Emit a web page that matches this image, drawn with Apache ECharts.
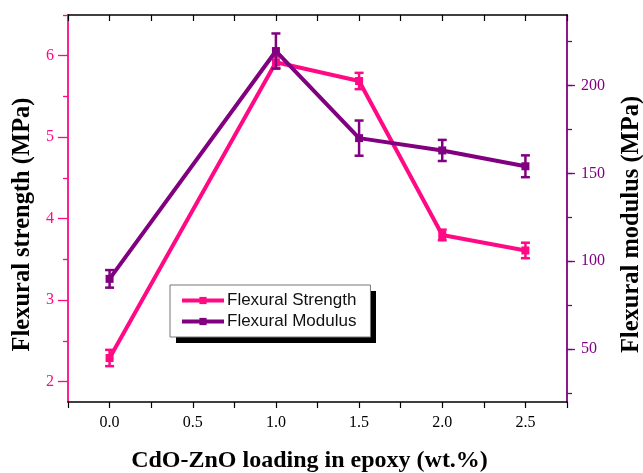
<!DOCTYPE html>
<html>
<head>
<meta charset="utf-8">
<script src="https://cdn.jsdelivr.net/npm/echarts@6/dist/echarts.min.js"></script>
<style>html,body{margin:0;padding:0;background:#fff;}#c{width:643px;height:473px;}</style>
</head>
<body>
<div id="c"></div>
<script>
// ---- data ----
const loadings = [0.0, 1.0, 1.5, 2.0, 2.5];
const strength = [2.29, 5.92, 5.69, 3.80, 3.61];
const strengthErr = [0.10, 0.07, 0.10, 0.065, 0.095];
const modulus = [90, 219.5, 170, 163, 154];
const modulusErr = [5, 10, 10, 6, 6.2];
const xTicks = [0.0, 0.5, 1.0, 1.5, 2.0, 2.5];
const strengthTicks = [2, 3, 4, 5, 6];
const modulusTicks = [50, 100, 150, 200];

const PINK = '#FF0A84';
const PURPLE = '#800080';
const SERIF = '"Liberation Serif", "Times New Roman", serif';

const chart = echarts.init(document.getElementById('c'), null, {renderer: 'canvas'});

function pairs(xs, ys) { return xs.map((x, i) => [x, ys[i]]); }
function errData(xs, ys, es) { return xs.map((x, i) => [x, ys[i] - es[i], ys[i] + es[i]]); }
function errRender(color) {
  return function (params, api) {
    const x = api.value(0);
    const lo = api.coord([x, api.value(1)]);
    const hi = api.coord([x, api.value(2)]);
    const hw = 4.5;
    const st = {stroke: color, lineWidth: 2.5};
    return {
      type: 'group',
      children: [
        {type: 'line', shape: {x1: lo[0], y1: lo[1], x2: hi[0], y2: hi[1]}, style: st},
        {type: 'line', shape: {x1: lo[0] - hw, y1: lo[1], x2: lo[0] + hw, y2: lo[1]}, style: st},
        {type: 'line', shape: {x1: hi[0] - hw, y1: hi[1], x2: hi[0] + hw, y2: hi[1]}, style: st}
      ]
    };
  };
}
const isTick = (arr, v) => arr.some(t => Math.abs(t - v) < 1e-6);

const L = 68, R = 76;
const hiddenX = (g) => ({type: 'value', gridIndex: g, min: -0.25, max: 2.75, show: false});
const gridBase = {left: L, right: R, containLabel: false, outerBoundsMode: 'none'};

const option = {
  animation: false,
  backgroundColor: '#fff',
  grid: [
    Object.assign({top: 15, bottom: 71}, gridBase),
    Object.assign({top: -25.74, bottom: 91.37}, gridBase),
    Object.assign({top: -2.6, bottom: 79.8}, gridBase),
    Object.assign({top: -2.6, bottom: 123.77}, gridBase)
  ],
  graphic: [
    {type: 'rect', z: 0, shape: {x: 176, y: 291, width: 200, height: 52}, style: {fill: '#000'}}
  ],
  xAxis: [
    {
      type: 'value', gridIndex: 0, position: 'bottom', min: -0.25, max: 2.75, interval: 0.25,
      name: 'CdO-ZnO loading in epoxy (wt.%)', nameLocation: 'middle', nameGap: 47,
      nameTextStyle: {fontFamily: SERIF, fontWeight: 'bold', fontSize: 24, color: '#000', padding: [0, 16, 0, 0]},
      axisLine: {show: true, onZero: false, lineStyle: {color: '#000', width: 1.5}},
      axisTick: {show: true, inside: false, length: 6, lineStyle: {color: '#000', width: 1.2}},
      axisLabel: {show: true, margin: 13, fontFamily: SERIF, fontSize: 16, color: '#000',
        formatter: v => isTick(xTicks, v) ? v.toFixed(1) : ''},
      splitLine: {show: false}
    },
    {
      type: 'value', gridIndex: 0, position: 'top', min: -0.25, max: 2.75, interval: 0.25,
      axisLine: {show: true, onZero: false, lineStyle: {color: '#000', width: 1.5}},
      axisTick: {show: true, inside: true, length: 6, lineStyle: {color: '#000', width: 1.2}},
      axisLabel: {show: false},
      splitLine: {show: false}
    },
    hiddenX(1), hiddenX(2), hiddenX(3)
  ],
  yAxis: [
    {
      type: 'value', gridIndex: 0, position: 'left', min: 1.75, max: 6.5,
      name: 'Flexural strength (MPa)', nameLocation: 'middle', nameRotate: 90, nameGap: 33,
      nameTextStyle: {fontFamily: SERIF, fontWeight: 'bold', fontSize: 24.5, color: '#000', padding: [0, 32, 0, 0]},
      axisLine: {show: true, onZero: false, lineStyle: {color: PINK, width: 1.8}},
      axisTick: {show: false}, axisLabel: {show: false}, splitLine: {show: false}
    },
    {
      type: 'value', gridIndex: 0, position: 'right', min: 20, max: 240,
      name: 'Flexural modulus (MPa)', nameLocation: 'middle', nameRotate: 90, nameGap: 52,
      nameTextStyle: {fontFamily: SERIF, fontWeight: 'bold', fontSize: 24.5, color: '#000', padding: [0, 32, 0, 0]},
      axisLine: {show: true, onZero: false, lineStyle: {color: PURPLE, width: 1.8}},
      axisTick: {show: false}, axisLabel: {show: false}, splitLine: {show: false}
    },
    {
      type: 'value', gridIndex: 1, position: 'left', min: 2, max: 7, interval: 1,
      axisLine: {show: false, onZero: false},
      axisTick: {show: true, length: 10, lineStyle: {color: PINK, width: 1.3}},
      minorTick: {show: true, splitNumber: 2, length: 5, lineStyle: {color: PINK, width: 1.3}},
      axisLabel: {show: true, margin: 14, fontFamily: SERIF, fontSize: 16, color: PINK,
        formatter: v => isTick(strengthTicks, v) ? String(v) : ''},
      splitLine: {show: false}, minorSplitLine: {show: false}
    },
    {
      type: 'value', gridIndex: 2, position: 'right', min: 25, max: 250, interval: 25,
      axisLine: {show: false, onZero: false},
      axisTick: {show: true, length: 5, lineStyle: {color: PURPLE, width: 1.3}},
      axisLabel: {show: false}, splitLine: {show: false}
    },
    {
      type: 'value', gridIndex: 3, position: 'right', min: 50, max: 250, interval: 50,
      axisLine: {show: false, onZero: false},
      axisTick: {show: true, length: 8, lineStyle: {color: PURPLE, width: 1.3}},
      axisLabel: {show: true, margin: 14, fontFamily: SERIF, fontSize: 16, color: PURPLE,
        formatter: v => isTick(modulusTicks, v) ? String(v) : ''},
      splitLine: {show: false}
    }
  ],
  legend: {
    orient: 'vertical', left: 170, top: 285, z: 5,
    data: ['Flexural Strength', 'Flexural Modulus'],
    itemWidth: 42, itemHeight: 9, itemGap: 4,
    padding: [7, 14, 7, 10],
    backgroundColor: '#fff', borderColor: '#777', borderWidth: 1,
    lineStyle: {width: 4},
    textStyle: {fontFamily: '"Liberation Sans", Arial, sans-serif', fontSize: 17, color: '#111', padding: [0, 0, 0, -2]}
  },
  series: [
    {
      name: 'Flexural Strength', type: 'line', xAxisIndex: 2, yAxisIndex: 2,
      data: pairs(loadings, strength), symbol: 'rect', symbolSize: 8,
      lineStyle: {color: PINK, width: 4}, itemStyle: {color: PINK}, z: 3
    },
    {
      type: 'custom', xAxisIndex: 2, yAxisIndex: 2, data: errData(loadings, strength, strengthErr),
      renderItem: errRender(PINK), z: 3
    },
    {
      name: 'Flexural Modulus', type: 'line', xAxisIndex: 3, yAxisIndex: 3,
      data: pairs(loadings, modulus), symbol: 'rect', symbolSize: 8,
      lineStyle: {color: PURPLE, width: 4}, itemStyle: {color: PURPLE}, z: 4
    },
    {
      type: 'custom', xAxisIndex: 3, yAxisIndex: 3, data: errData(loadings, modulus, modulusErr),
      renderItem: errRender(PURPLE), z: 4
    }
  ]
};
chart.setOption(option);
</script>
</body>
</html>
